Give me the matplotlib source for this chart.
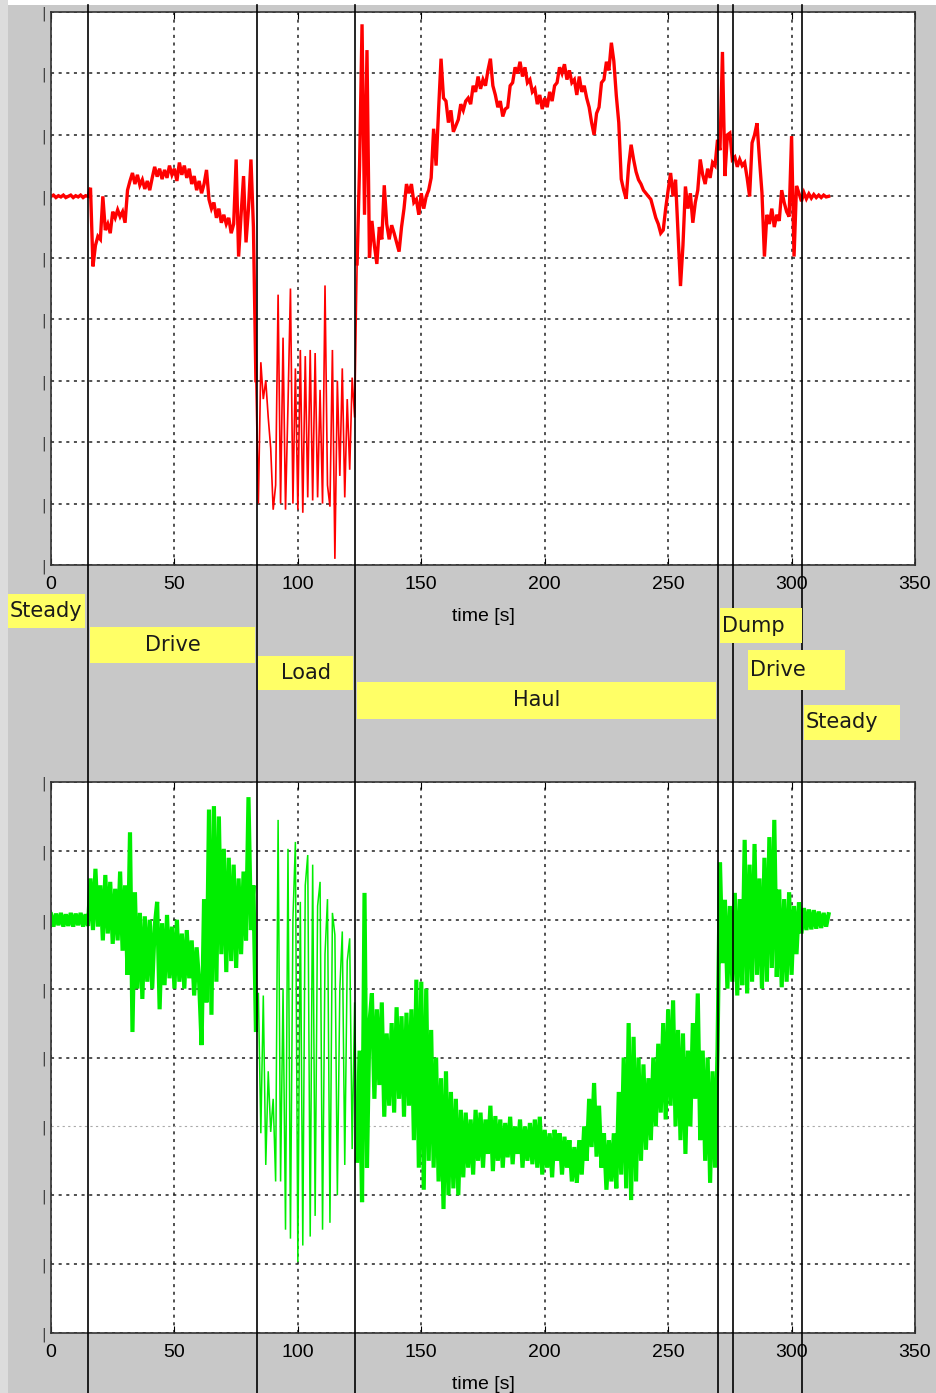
import numpy as np
import matplotlib.pyplot as plt
from matplotlib.transforms import blended_transform_factory
from matplotlib.lines import Line2D
from matplotlib.patches import Rectangle

W, H = 936, 1393

# signals sampled once per second, t = 0 .. 315 s
red_signal = [
    0, 0.02, -0.02, 0.01, -0.01, 0.02, -0.02, 0, 0.02, -0.02,
    0.01, -0.01, 0.02, -0.02, 0.01, 0, 0.14, -1.14, -0.8, -0.65,
    -0.7, 0.0, -0.55, -0.45, -0.6, -0.25, -0.35, -0.22, -0.33, -0.25,
    -0.43, 0.1, 0.25, 0.38, 0.2, 0.35, 0.18, 0.27, 0.12, 0.25,
    0.1, 0.3, 0.48, 0.32, 0.45, 0.28, 0.43, 0.3, 0.5, 0.35,
    0.45, 0.25, 0.55, 0.35, 0.5, 0.3, 0.45, 0.2, 0.33, 0.1,
    0.25, 0.05, 0.2, 0.43, -0.05, -0.2, -0.1, -0.35, -0.2, -0.43,
    -0.3, -0.45, -0.35, -0.6, -0.45, 0.6, -0.98, -0.3, 0.33, -0.75,
    -0.2, 0.6, -0.5, -3.0, -5.0, -2.7, -3.3, -3.0, -3.6, -4.1,
    -5.1, -4.7, -1.6, -5.0, -2.3, -5.1, -3.4, -1.5, -5.0, -2.8,
    -5.1, -2.5, -5.15, -2.6, -4.9, -2.5, -4.95, -2.55, -4.9, -3.15,
    -5.0, -1.45, -4.7, -5.05, -2.5, -5.9, -3.0, -4.55, -2.8, -4.9,
    -3.3, -4.45, -2.95, -3.6, -1.1, 0.5, 2.8, -0.3, 2.38, -1.0,
    -0.4, -0.8, -1.1, -0.5, -0.7, 0.18, -0.45, -0.7, -0.47, -0.6,
    -0.75, -0.9, -0.5, -0.2, 0.2, 0.05, 0.2, -0.1, -0.05, -0.3,
    0.05, -0.2, 0.0, 0.1, 0.3, 1.1, 0.5, 1.4, 2.24, 1.6,
    1.55, 1.2, 1.4, 1.05, 1.15, 1.25, 1.5, 1.4, 1.55, 1.6,
    1.5, 1.8, 1.7, 1.95, 1.75, 1.9, 1.8, 2.05, 2.24, 1.8,
    1.65, 1.45, 1.55, 1.3, 1.42, 1.45, 1.8, 1.85, 2.1, 2.0,
    2.19, 1.95, 2.1, 1.85, 1.9, 1.7, 1.75, 1.5, 1.65, 1.42,
    1.6, 1.45, 1.7, 1.55, 1.8, 1.85, 2.1, 2.0, 2.15, 1.9,
    2.05, 1.85, 1.9, 1.65, 1.95, 1.7, 1.8, 1.6, 1.45, 1.2,
    1.0, 1.35, 1.45, 1.85, 1.9, 2.19, 2.05, 2.5, 2.2, 1.64,
    1.2, 0.28, 0.1, -0.04, 0.5, 0.84, 0.6, 0.4, 0.27, 0.2,
    0.1, 0.05, 0.0, -0.05, -0.2, -0.35, -0.45, -0.6, -0.55, -0.2,
    0.1, 0.38, 0.0, 0.27, -0.6, -1.46, -0.8, 0.16, -0.2, 0.05,
    -0.43, -0.1, 0.1, 0.6, 0.35, 0.2, 0.45, 0.3, 0.55, 0.5,
    0.92, 0.75, 2.35, 0.33, 1.0, 1.03, 0.6, 0.64, 0.48, 0.6,
    0.5, 0.55, 0.3, 0.0, 0.87, 1.0, 1.19, 0.6, 0.06, -0.98,
    -0.3, -0.45, -0.2, -0.5, -0.3, -0.4, 0.1, -0.1, -0.25, -0.33,
    0.98, -0.98, 0.17, 0.05, -0.08, 0.06, -0.04, 0.04, -0.03, 0.03,
    -0.02, 0.02, -0.02, 0.02, -0.01, 0.0,
]

green_signal = [
    0.08, -0.1, 0.09, -0.08, 0.1, -0.1, 0.08, -0.09, 0.1, -0.1,
    0.09, -0.08, 0.1, -0.1, 0.08, -0.09, 0.6, -0.15, 0.74, -0.1,
    0.5, -0.3, 0.65, -0.2, 0.55, -0.35, 0.45, -0.3, 0.7, -0.45,
    0.5, -0.8, 1.27, -1.63, 0.4, -1.0, 0.1, -1.15, 0.05, -0.9,
    0.0, -1.0, -0.1, 0.26, -1.3, -0.05, -0.95, 0.07, -0.85, -0.1,
    -1.0, 0.0, -0.9, -0.2, -1.0, -0.15, -0.85, -0.3, -1.1, -0.4,
    -0.9, -1.82, 0.3, -1.2, 1.6, -1.38, 1.65, -0.9, 1.5, -0.5,
    1.03, -0.76, 0.9, -0.6, 0.8, -0.7, 0.6, -0.5, 0.7, -0.3,
    1.78, -0.15, 0.5, -1.6, -1.06, -3.1, -1.1, -3.56, -2.2, -3.08,
    -2.6, -3.8, 1.45, -3.8, -1.0, -4.5, 1.03, -4.63, 0.0, 1.13,
    -4.97, 0.26, -4.73, 0.5, 0.94, -4.6, 0.8, -4.3, 0.2, 0.55,
    -4.5, -0.5, 0.3, -4.4, 0.1, -0.22, -4.0, -1.0, -0.17, -3.56,
    -0.6, -0.27, -3.33, -1.2, -3.5, -1.9, -4.1, 0.39, -3.6, -1.5,
    -1.07, -2.6, -1.3, -2.4, -1.2, -2.86, -1.65, -2.7, -1.5, -2.8,
    -1.27, -2.6, -1.4, -2.86, -1.35, -2.7, -1.3, -3.2, -0.87, -3.6,
    -0.9, -3.92, -1.0, -3.5, -1.6, -3.6, -2.0, -3.8, -2.3, -4.2,
    -2.2, -4.0, -2.5, -3.9, -2.6, -4.0, -2.76, -3.74, -2.8, -3.6,
    -2.9, -3.7, -2.76, -3.5, -2.8, -3.6, -2.9, -3.4, -2.7, -3.65,
    -2.85, -3.5, -2.9, -3.6, -2.95, -3.45, -2.86, -3.55, -3.0, -3.4,
    -2.9, -3.6, -3.0, -3.5, -2.95, -3.55, -2.9, -3.6, -2.86, -3.7,
    -3.05, -3.6, -3.1, -3.74, -3.05, -3.5, -3.1, -3.7, -3.15, -3.6,
    -3.2, -3.8, -3.3, -3.82, -3.2, -3.7, -3.0, -3.5, -2.6, -3.3,
    -2.37, -3.44, -2.7, -3.6, -3.1, -3.92, -3.2, -3.8, -3.1, -3.9,
    -2.5, -3.7, -2.0, -3.9, -1.5, -4.07, -1.7, -3.8, -2.0, -3.5,
    -2.1, -3.34, -2.3, -3.2, -2.0, -3.0, -1.8, -2.8, -1.5, -2.9,
    -1.3, -2.7, -1.17, -3.0, -1.6, -3.2, -1.65, -3.4, -1.9, -3.0,
    -1.5, -2.6, -1.07, -3.2, -1.9, -3.5, -2.0, -3.82, -2.2, -3.6,
    -1.9, 0.83, -0.63, 0.29, -1.0, 0.2, -0.9, 0.39, -1.1, 0.3,
    -0.95, 1.16, -1.07, 0.8, -0.9, 1.1, -0.8, 0.6, -1.0, 0.9,
    -0.9, 1.2, -0.7, 1.45, -0.83, 0.44, -0.98, 0.3, -0.9, 0.4,
    -0.8, 0.2, -0.5, 0.25, -0.2, 0.17, -0.15, 0.15, -0.14, 0.14,
    -0.13, 0.12, -0.12, 0.1, -0.1, 0.08,
]

time_s = np.arange(len(red_signal))

# phase boundaries [s] and phase label boxes
phase_edges = [15, 83.4, 123.1, 270.2, 276.2, 304.2]
phase_names = ['Steady', 'Drive', 'Load', 'Haul', 'Dump', 'Drive', 'Steady']
phase_box_start = [-17.4, 15.8, 83.9, 124.0, 271.0, 282.3, 305.0]
phase_box_end = [13.8, 82.6, 122.3, 269.4, 304.2, 321.6, 343.9]
box_top_px = [594, 627, 656, 682, 608, 650, 705]
box_h_px = [34, 36, 34, 37, 35, 40, 35]
box_align = ['left', 'center', 'center', 'center', 'left', 'left', 'left']

x_ticks = [0, 50, 100, 150, 200, 250, 300, 350]
red_yticks = [-6, -5, -4, -3, -2, -1, 0, 1, 2, 3]
green_yticks = [-6, -5, -4, -3, -2, -1, 0, 1, 2]

gray = '#c8c8c8'
tick_font = ['Liberation Sans', 'DejaVu Sans']

fig = plt.figure(figsize=(W / 100, H / 100), dpi=100, facecolor=gray)
fig.add_artist(Rectangle((0, 1 - 5 / H), 1, 5 / H, transform=fig.transFigure,
                         facecolor='white', edgecolor='none', zorder=-1))
fig.add_artist(Rectangle((0, 0), 8 / W, 1, transform=fig.transFigure,
                         facecolor='#dcdcdc', edgecolor='none', zorder=-1))

ax1 = fig.add_axes([51 / W, 1 - 565 / H, 864 / W, 553 / H])
ax2 = fig.add_axes([51 / W, 1 - 1333 / H, 864 / W, 551 / H])


def style_axes(ax, yticks):
    ax.set_facecolor('white')
    ax.set_xlim(0, 350)
    ax.set_ylim(yticks[0], yticks[-1])
    ax.set_xticks(x_ticks)
    ax.set_xticklabels([str(v) for v in x_ticks], family=tick_font, fontsize=14)
    ax.set_yticks(yticks)
    ax.set_yticklabels(['|'] * len(yticks), fontsize=10, color='#333333')
    ax.tick_params(axis='x', direction='in', length=5, top=True, pad=8)
    ax.tick_params(axis='y', length=0, pad=4)
    ax.grid(True, linestyle=(0, (2, 3)), color='#222222', linewidth=1.1)
    ax.set_axisbelow(True)
    for sp in ax.spines.values():
        sp.set_linewidth(1.2)
        sp.set_color('#333333')
    ax.set_xlabel('time [s]', family=tick_font, fontsize=14, labelpad=11)


style_axes(ax1, red_yticks)
style_axes(ax2, green_yticks)
# the -3 grid line of the lower panel is drawn fainter
ax2.get_ygridlines()[3].set_color('#aaaaaa')
ax2.get_ygridlines()[3].set_linewidth(0.8)

# the loading phase is drawn with a thinner trace
i_load0 = int(phase_edges[1])
i_load1 = int(phase_edges[2]) + 2
segments = [(0, i_load0 + 1, 2.4, 3.0), (i_load0, i_load1, 1.2, 1.1),
            (i_load1 - 1, len(time_s), 2.4, 3.0)]
for a, b, lw_red, lw_green in segments:
    ax1.plot(time_s[a:b], red_signal[a:b], color='#ff0000', linewidth=lw_red,
             solid_joinstyle='miter')
    ax2.plot(time_s[a:b], green_signal[a:b], color='#00ee00', linewidth=lw_green,
             solid_joinstyle='miter')

# phase boundary lines across the whole figure
trans = blended_transform_factory(ax1.transData, fig.transFigure)
for x in phase_edges:
    fig.add_artist(Line2D([x, x], [0, 1 - 5 / H], transform=trans,
                          color='black', linewidth=1.2, zorder=3))

# yellow phase labels
for name, x0, x1, top, h, ha in zip(phase_names, phase_box_start, phase_box_end,
                                    box_top_px, box_h_px, box_align):
    y0 = 1 - (top + h) / H
    fig.add_artist(Rectangle((x0, y0), x1 - x0, h / H, transform=trans,
                             facecolor='#ffff66', edgecolor='none', zorder=4))
    tx = x0 + 0.8 if ha == 'left' else (x0 + x1) / 2
    fig.text(tx, y0 + h / H / 2, name, transform=trans, ha=ha, va='center',
             fontsize=15, color='#1a1a1a', zorder=5)

fig.savefig('out.png', dpi=100, facecolor=gray)
